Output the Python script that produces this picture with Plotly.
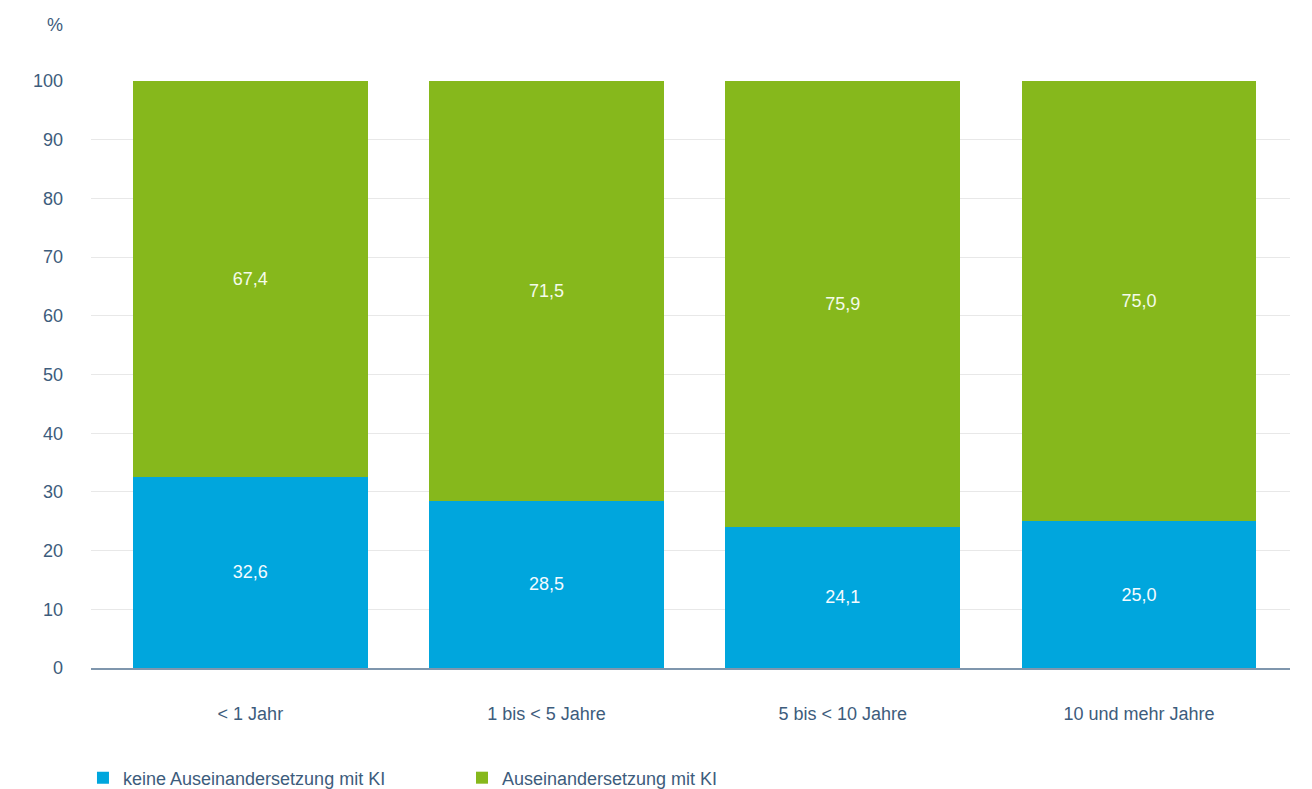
import plotly.graph_objects as go

# Kategorien und Werte (Anteile in %)
kategorien = ["< 1 Jahr", "1 bis < 5 Jahre", "5 bis < 10 Jahre", "10 und mehr Jahre"]
keine_ki = [32.6, 28.5, 24.1, 25.0]
mit_ki = [67.4, 71.5, 75.9, 75.0]

blau = "#00a6dd"
gruen = "#86b81c"
schrift = "#3d5c7c"
font_name = "Liberation Sans"


def fmt(werte):
    return [f"{v:.1f}".replace(".", ",") for v in werte]


fig = go.Figure()

fig.add_trace(go.Bar(
    x=kategorien, y=keine_ki, name="keine Auseinandersetzung mit KI",
    marker=dict(color=blau, line_width=0),
    text=fmt(keine_ki), textposition="inside", insidetextanchor="middle",
    textfont=dict(color="#f4fbff", size=18, family=font_name),
    hoverinfo="skip",
))
fig.add_trace(go.Bar(
    x=kategorien, y=mit_ki, name="Auseinandersetzung mit KI",
    marker=dict(color=gruen, line_width=0),
    text=fmt(mit_ki), textposition="inside", insidetextanchor="middle",
    textfont=dict(color="#f4fbea", size=18, family=font_name),
    hoverinfo="skip",
))

# Seite hat 8px Body-Rand, daher Figur etwas kleiner
fig.update_layout(
    barmode="stack",
    bargap=0.207,
    width=1304, height=781,
    margin=dict(l=83, r=22, t=73, b=121, autoexpand=False),
    plot_bgcolor="white", paper_bgcolor="white",
    font=dict(family=font_name, size=18, color=schrift),
    uniformtext=dict(mode="show", minsize=18),
    legend=dict(
        orientation="h", xref="container", yref="container",
        x=0.0575, xanchor="left", y=0.0141, yanchor="middle",
        entrywidth=334, traceorder="normal",
        font=dict(size=18, color=schrift),
    ),
    xaxis=dict(
        range=[-0.538, 3.51], showgrid=False, showline=True,
        linecolor="#7f96ad", linewidth=1.5, ticks="", ticklabelstandoff=29,
        tickfont=dict(size=18, color=schrift),
    ),
    yaxis=dict(
        range=[0, 100], dtick=10, showgrid=True, gridcolor="#e8e8e8",
        gridwidth=1, zeroline=False, ticks="", ticklabelstandoff=27,
        tickfont=dict(size=18, color=schrift),
    ),
    annotations=[dict(
        text="%", xref="paper", yref="paper", x=-0.03, y=1.0954,
        xanchor="center", yanchor="middle", showarrow=False,
        font=dict(size=18, color=schrift),
    )],
)

fig.write_html("out.html")
